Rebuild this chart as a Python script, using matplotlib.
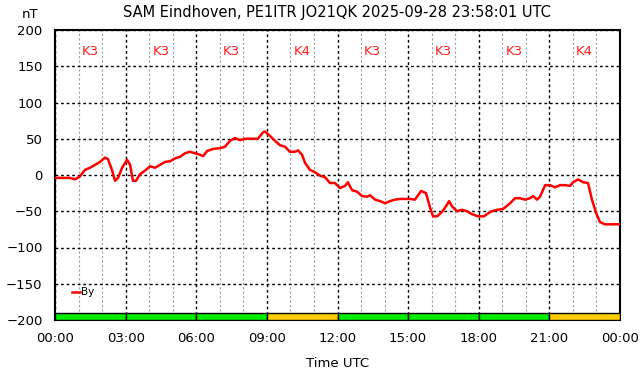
import numpy as np
import matplotlib
matplotlib.use("Agg")
import matplotlib.pyplot as plt
from matplotlib.patches import Rectangle

# By component, hours since 00:00 UTC and nT
hours = [0.0, 0.2, 0.64, 0.85, 1.06, 1.27, 1.49, 1.7, 1.91, 2.12, 2.25, 2.42, 2.55,
         2.68, 2.85, 3.06, 3.19, 3.31, 3.44, 3.61, 3.82, 4.04, 4.25, 4.46, 4.67,
         4.89, 5.1, 5.31, 5.52, 5.73, 5.95, 6.16, 6.29, 6.46, 6.71, 7.01, 7.22,
         7.43, 7.65, 7.86, 8.07, 8.28, 8.62, 8.84, 8.92, 9.13, 9.35, 9.56, 9.77,
         9.98, 10.19, 10.32, 10.49, 10.62, 10.83, 11.04, 11.26, 11.47, 11.68,
         11.89, 12.1, 12.32, 12.44, 12.62, 12.83, 13.04, 13.25, 13.38, 13.6,
         13.81, 14.02, 14.23, 14.44, 14.66, 14.87, 15.08, 15.29, 15.42, 15.55,
         15.76, 15.93, 16.06, 16.23, 16.44, 16.61, 16.74, 16.86, 17.08, 17.29,
         17.5, 17.71, 17.97, 18.22, 18.48, 18.77, 19.03, 19.33, 19.54, 19.75,
         19.97, 20.18, 20.31, 20.48, 20.6, 20.82, 21.03, 21.24, 21.45, 21.67,
         21.88, 22.01, 22.22, 22.43, 22.64, 22.81, 22.98, 23.15, 23.36, 23.97]
by_nt = [-4, -4, -4, -6, -2, 7, 10, 14, 18, 24, 22, 7, -8,
         -4, 10, 21, 14, -8, -8, 1, 6, 12, 10, 14, 18,
         19, 23, 25, 30, 32, 30, 28, 26, 33, 36, 37, 39,
         47, 51, 48, 50, 50, 50, 59, 60, 54, 47, 41, 39,
         32, 32, 34, 28, 17, 7, 4, -1, -3, -11,
         -11, -18, -15, -10, -21, -23, -29, -30, -28, -34,
         -36, -39, -36, -34, -33, -33, -33, -34, -28, -22,
         -25, -45, -57, -57, -51, -43, -36, -43, -50, -48,
         -50, -54, -57, -57, -51, -48, -47, -39, -32, -32,
         -34, -32, -29, -34, -30, -14, -14, -17, -14, -14,
         -15, -10, -6, -10, -11, -34, -52, -65, -68, -68]

k_index = [3, 3, 3, 4, 3, 3, 3, 4]
k_start = [0, 3, 6, 9, 12, 15, 18, 21]

fig = plt.figure(figsize=(6.42, 3.76), dpi=100)
ax = fig.add_axes([55 / 642, 56 / 376, 565 / 642, 290 / 376])

ax.set_xlim(0, 24)
ax.set_ylim(-200, 200)
ax.set_xticks(np.arange(0, 25, 3))
ax.set_xticks(np.arange(0, 25, 1), minor=True)
ax.set_yticks(np.arange(-200, 201, 50))
ax.set_xticklabels(["%02d:00" % (h % 24) for h in range(0, 25, 3)])

ax.grid(True, which="minor", axis="x", color="#a0a0a0", linestyle=(0, (2, 2)), linewidth=0.8)
ax.grid(True, which="major", color="black", linestyle=(0, (2, 2)), linewidth=1)
ax.tick_params(which="both", length=0, labelsize=9.5, pad=9)
for s in ax.spines.values():
    s.set_linewidth(1.5)

# K-index bar at the bottom
for k, t in zip(k_index, k_start):
    c = "#ffcc00" if k >= 4 else "#00ee00"
    ax.add_patch(Rectangle((t, -200), 3, 10, facecolor=c, edgecolor="black",
                           linewidth=1, zorder=3))
    ax.text(t + 1.5, 170, "K%d" % k, color="#ff2020", fontsize=9.5,
            ha="center", va="center")

ax.plot(hours, by_nt, color="red", linewidth=1.8, label="By", zorder=4)

ax.legend(loc="lower left", bbox_to_anchor=(0.02, 0.06), frameon=False,
          fontsize=7.5, handlelength=0.8, handletextpad=0.1, borderpad=0)

ax.set_xlabel("Time UTC", fontsize=9.5, labelpad=8)
fig.text(30 / 642, 1 - 14 / 376, "nT", fontsize=9.5, ha="center", va="center")
fig.text(337 / 642, 1 - 12 / 376, "SAM Eindhoven, PE1ITR JO21QK 2025-09-28 23:58:01 UTC",
         fontsize=10.5, ha="center", va="center")

fig.savefig("out.png", dpi=100)
